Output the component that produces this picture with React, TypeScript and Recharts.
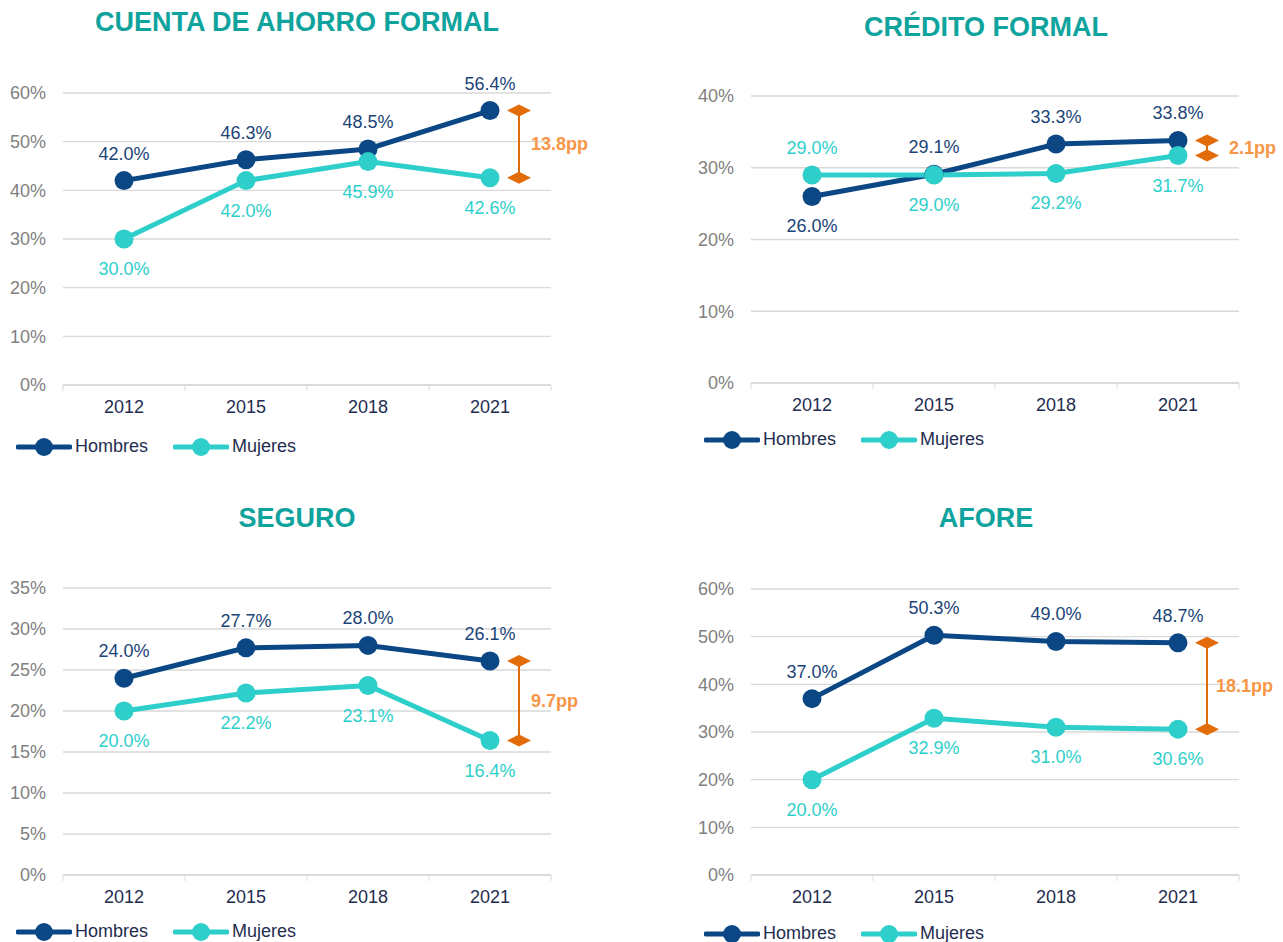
import React from 'react';
import {
  LineChart,
  Line,
  XAxis,
  YAxis,
  CartesianGrid,
  LabelList,
  ReferenceLine,
} from 'recharts';

const YEARS = ['2012', '2015', '2018', '2021'];

const AHORRO_HOMBRES = [42.0, 46.3, 48.5, 56.4];
const AHORRO_MUJERES = [30.0, 42.0, 45.9, 42.6];

const CREDITO_HOMBRES = [26.0, 29.1, 33.3, 33.8];
const CREDITO_MUJERES = [29.0, 29.0, 29.2, 31.7];

const SEGURO_HOMBRES = [24.0, 27.7, 28.0, 26.1];
const SEGURO_MUJERES = [20.0, 22.2, 23.1, 16.4];

const AFORE_HOMBRES = [37.0, 50.3, 49.0, 48.7];
const AFORE_MUJERES = [20.0, 32.9, 31.0, 30.6];

const TICKS_60 = [0, 10, 20, 30, 40, 50, 60];
const TICKS_40 = [0, 10, 20, 30, 40];
const TICKS_35 = [0, 5, 10, 15, 20, 25, 30, 35];

const HOMBRES_COLOR = '#0A4784';
const HOMBRES_LABEL = '#1B4478';
const MUJERES_COLOR = '#2ECFCB';
const TITLE_COLOR = '#0FA39E';
const ARROW_COLOR = '#E36C0A';
const GAP_TEXT = '#F79646';
const GRID = '#D9D9D9';
const FONT = '"Liberation Sans", Arial, sans-serif';

const buildRows = (h: number[], m: number[]) =>
  YEARS.map((year, i) => ({ year, hombres: h[i], mujeres: m[i] }));

// flip lists: points whose label sits on the other side of the marker
type Panel = {
  title: string;
  hombres: number[];
  mujeres: number[];
  ticks: number[];
  left: number;
  top: number;
  width: number;
  height: number;
  margin: { top: number; right: number; bottom: number; left: number };
  titleX: number;
  titleY: number;
  legendY: number;
  legendX: number;
  gapTextDx: number;
  flipHombres?: number[];
  flipMujeres?: number[];
};

const PANELS: Panel[] = [
  {
    title: 'CUENTA DE AHORRO FORMAL',
    hombres: AHORRO_HOMBRES,
    mujeres: AHORRO_MUJERES,
    ticks: TICKS_60,
    left: 0,
    top: 0,
    width: 640,
    height: 470,
    margin: { top: 93, right: 89, bottom: 55, left: 0 },
    titleX: 297,
    titleY: 22,
    legendY: 446,
    legendX: 18,
    gapTextDx: 12,
  },
  {
    title: 'CRÉDITO FORMAL',
    hombres: CREDITO_HOMBRES,
    mujeres: CREDITO_MUJERES,
    ticks: TICKS_40,
    left: 640,
    top: 0,
    width: 643,
    height: 470,
    margin: { top: 96, right: 44, bottom: 57, left: 48 },
    titleX: 986,
    titleY: 27,
    legendY: 439,
    legendX: 706,
    gapTextDx: 22,
    flipHombres: [0],
    flipMujeres: [0],
  },
  {
    title: 'SEGURO',
    hombres: SEGURO_HOMBRES,
    mujeres: SEGURO_MUJERES,
    ticks: TICKS_35,
    left: 0,
    top: 470,
    width: 640,
    height: 472,
    margin: { top: 118, right: 89, bottom: 37, left: 0 },
    titleX: 297,
    titleY: 518,
    legendY: 931,
    legendX: 18,
    gapTextDx: 12,
  },
  {
    title: 'AFORE',
    hombres: AFORE_HOMBRES,
    mujeres: AFORE_MUJERES,
    ticks: TICKS_60,
    left: 640,
    top: 470,
    width: 643,
    height: 472,
    margin: { top: 119, right: 44, bottom: 37, left: 48 },
    titleX: 986,
    titleY: 518,
    legendY: 933,
    legendX: 706,
    gapTextDx: 9,
  },
];

const HALF_BAND = 61;

const XTick = (props: any) => {
  const { x, y, payload, index } = props;
  const axisY = y - 8;
  return (
    <g>
      <line x1={x - HALF_BAND} x2={x - HALF_BAND} y1={axisY} y2={axisY + 6} stroke={GRID} />
      {index === YEARS.length - 1 && (
        <line x1={x + HALF_BAND} x2={x + HALF_BAND} y1={axisY} y2={axisY + 6} stroke={GRID} />
      )}
      <text x={x} y={axisY + 22} textAnchor="middle" dominantBaseline="central" fill="#1F2D50" fontSize={18} fontFamily={FONT}>
        {payload.value}
      </text>
    </g>
  );
};

const makeLabel = (color: string, above: boolean, flips: number[]) => (props: any) => {
  const { x, y, value, index } = props;
  const up = flips.includes(index) ? !above : above;
  return (
    <text
      x={x}
      y={up ? y - 27 : y + 30}
      textAnchor="middle"
      dominantBaseline="central"
      fill={color}
      fontSize={18}
      fontFamily={FONT}
    >
      {Number(value).toFixed(1)}%
    </text>
  );
};

const gapShape = (label: string, dx: number) => (props: any) => {
  const { x1, y1, y2 } = props;
  const cx = x1 + 29;
  const diamond = (cy: number) =>
    `${cx - 12},${cy} ${cx},${cy - 6} ${cx + 12},${cy} ${cx},${cy + 6}`;
  return (
    <g>
      <line x1={cx} x2={cx} y1={y1} y2={y2} stroke={ARROW_COLOR} strokeWidth={2} />
      <polygon points={diamond(y1)} fill={ARROW_COLOR} />
      <polygon points={diamond(y2)} fill={ARROW_COLOR} />
      <text
        x={cx + dx}
        y={(y1 + y2) / 2}
        dominantBaseline="central"
        fill={GAP_TEXT}
        fontSize={18}
        fontWeight="bold"
        fontFamily={FONT}
      >
        {label}
      </text>
    </g>
  );
};

const LegendItem = ({ color, label }: { color: string; label: string }) => (
  <div style={{ display: 'flex', alignItems: 'center', width: 157 }}>
    <svg width={56} height={20}>
      <line x1={2} x2={54} y1={10} y2={10} stroke={color} strokeWidth={5} strokeLinecap="round" />
      <circle cx={28} cy={10} r={9} fill={color} />
    </svg>
    <span style={{ marginLeft: 3, fontSize: 18, color: '#1F2D50' }}>{label}</span>
  </div>
);

const ChartPanel = ({ p }: { p: Panel }) => {
  const rows = buildRows(p.hombres, p.mujeres);
  const last = YEARS.length - 1;
  const gap = (p.hombres[last] - p.mujeres[last]).toFixed(1) + 'pp';
  const max = p.ticks[p.ticks.length - 1];
  return (
    <>
      <div
        style={{
          position: 'absolute',
          left: p.titleX - 300,
          width: 600,
          top: p.titleY - 16,
          textAlign: 'center',
          fontSize: 27,
          fontWeight: 'bold',
          color: TITLE_COLOR,
          lineHeight: '32px',
        }}
      >
        {p.title}
      </div>
      <div style={{ position: 'absolute', left: p.left, top: p.top }}>
        <LineChart width={p.width} height={p.height} data={rows} margin={p.margin}>
          <CartesianGrid vertical={false} stroke={GRID} strokeWidth={1.3} />
          <XAxis
            dataKey="year"
            padding={{ left: HALF_BAND, right: HALF_BAND }}
            stroke={GRID}
            strokeWidth={1.3}
            tickLine={false}
            tick={<XTick />}
            height={30}
            interval={0}
          />
          <YAxis
            domain={[0, max]}
            ticks={p.ticks}
            width={63}
            axisLine={false}
            tickLine={false}
            tickMargin={11}
            tickFormatter={(v: number) => `${v}%`}
            tick={{ fill: '#808080', fontSize: 18, fontFamily: FONT }}
          />
          <ReferenceLine
            segment={[
              { x: YEARS[last], y: p.hombres[last] },
              { x: YEARS[last], y: p.mujeres[last] },
            ]}
            ifOverflow="visible"
            shape={gapShape(gap, p.gapTextDx)}
          />
          <Line
            dataKey="hombres"
            stroke={HOMBRES_COLOR}
            strokeWidth={5}
            dot={{ r: 9.5, fill: HOMBRES_COLOR, stroke: HOMBRES_COLOR, strokeWidth: 0 }}
            activeDot={false}
            isAnimationActive={false}
          >
            <LabelList dataKey="hombres" content={makeLabel(HOMBRES_LABEL, true, p.flipHombres || [])} />
          </Line>
          <Line
            dataKey="mujeres"
            stroke={MUJERES_COLOR}
            strokeWidth={5}
            dot={{ r: 9.5, fill: MUJERES_COLOR, stroke: MUJERES_COLOR, strokeWidth: 0 }}
            activeDot={false}
            isAnimationActive={false}
          >
            <LabelList dataKey="mujeres" content={makeLabel(MUJERES_COLOR, false, p.flipMujeres || [])} />
          </Line>
        </LineChart>
      </div>
      <div style={{ position: 'absolute', left: p.legendX - 2, top: p.legendY - 10, display: 'flex' }}>
        <LegendItem color={HOMBRES_COLOR} label="Hombres" />
        <LegendItem color={MUJERES_COLOR} label="Mujeres" />
      </div>
    </>
  );
};

export default function App() {
  return (
    <div
      style={{
        position: 'absolute',
        left: 0,
        top: 0,
        width: 1283,
        height: 942,
        background: '#fff',
        fontFamily: FONT,
        overflow: 'hidden',
      }}
    >
      {PANELS.map((p) => (
        <ChartPanel key={p.title} p={p} />
      ))}
    </div>
  );
}
